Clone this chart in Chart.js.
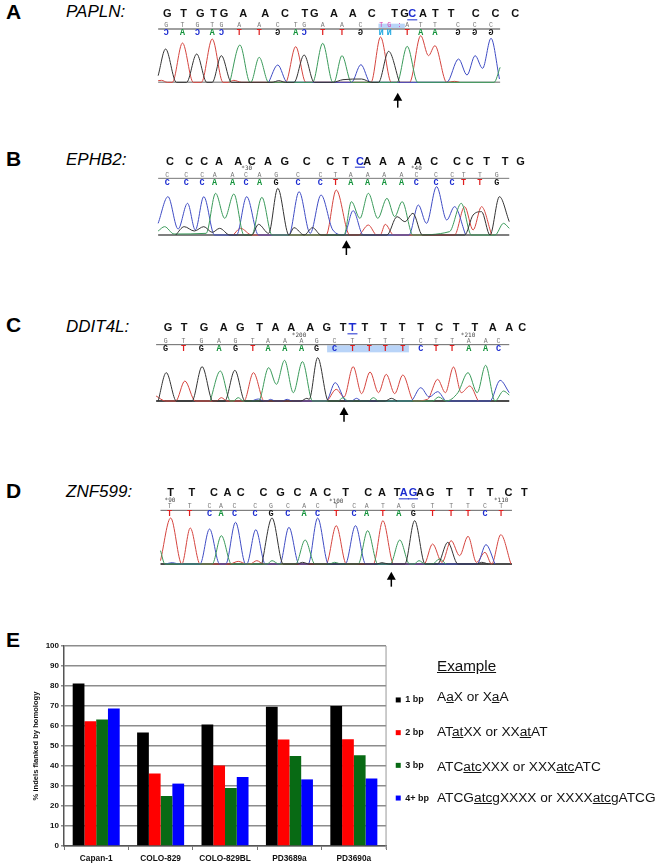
<!DOCTYPE html>
<html>
<head>
<meta charset="utf-8">
<script src="https://cdn.jsdelivr.net/npm/chart.js@4"></script>
<style>
html, body { margin: 0; padding: 0; background: #fff; }
body { width: 662px; height: 868px; position: relative; overflow: hidden; font-family: "Liberation Sans", Arial, sans-serif; color: #000; filter: blur(0.35px); }
canvas { position: absolute; left: 0; }
.panel { position: absolute; left: 6px; font-size: 21px; font-weight: bold; line-height: 21px; }
.gene { position: absolute; left: 66px; font-size: 17px; font-style: italic; line-height: 17px; }
.example { position: absolute; left: 437px; font-size: 13.7px; line-height: 14px; white-space: nowrap; color: #111; }
</style>
</head>
<body>
<div class="panel" style="top:1px">A</div>
<div class="gene" style="top:3px">PAPLN:</div>
<div class="panel" style="top:148px">B</div>
<div class="gene" style="top:151px">EPHB2:</div>
<div class="panel" style="top:314px">C</div>
<div class="gene" style="top:318px">DDIT4L:</div>
<div class="panel" style="top:480px">D</div>
<div class="gene" style="top:483px">ZNF599:</div>
<div class="panel" style="top:629px">E</div>

<canvas id="trace_a" width="662" height="120" style="top:0px"></canvas>
<canvas id="trace_b" width="662" height="120" style="top:145px"></canvas>
<canvas id="trace_c" width="662" height="120" style="top:310px"></canvas>
<canvas id="trace_d" width="662" height="120" style="top:475px"></canvas>
<canvas id="bars" width="453" height="243" style="top:625px"></canvas>

<div class="example" style="top:658px;font-size:15.2px;line-height:16px"><u>Example</u></div>
<div class="example" style="top:690px">A<u>a</u>X or X<u>a</u>A</div>
<div class="example" style="top:725px">AT<u>at</u>XX or XX<u>at</u>AT</div>
<div class="example" style="top:760px">ATC<u>atc</u>XXX or XXX<u>atc</u>ATC</div>
<div class="example" style="top:791px">ATCG<u>atcg</u>XXXX or XXXX<u>atcg</u>ATCG</div>

<script>
// bar chart, panel E
const samples = ['Capan-1', 'COLO-829', 'COLO-829BL', 'PD3689a', 'PD3690a'];
const bp1 = [81.3, 56.7, 60.7, 69.6, 70.0];
const bp2 = [62.4, 36.2, 40.2, 53.2, 53.4];
const bp3 = [63.2, 25.0, 29.0, 45.0, 45.4];
const bp4 = [68.8, 31.2, 34.5, 33.3, 33.7];

// sequence traces, [scan position, signal]
const a_g = [[468,20],[490,100],[522,0],[552,0],[582,85],[612,0],[628,0],[655,80],[685,0],[805,0],[825,5],[845,0],[870,0],[900,82],[930,0],[985,0],[1015,8],[1070,10],[1100,0],[1120,0],[1150,93],[1182,0]];
const a_t = [[468,5],[478,6],[495,0],[510,0],[540,118],[572,0],[596,0],[628,130],[660,0],[675,0],[692,6],[715,0],[845,0],[875,107],[905,0],[1098,0],[1126,136],[1158,0],[1212,0],[1245,140],[1268,80],[1287,110],[1322,0],[1345,3],[1360,0]];
const a_a = [[680,0],[710,112],[740,0],[742,0],[767,75],[795,0],[925,0],[955,117],[985,0],[988,0],[1012,80],[1040,0],[1175,0],[1205,108],[1236,0],[1462,0],[1480,45]];
const a_c = [[795,0],[822,52],[850,0],[1040,0],[1068,53],[1096,0],[1322,0],[1357,70],[1382,22],[1406,80],[1428,42],[1453,132],[1478,10]];

const b_c = [[468,35],[497,115],[527,18],[555,95],[578,15],[603,115],[635,0],[700,0],[730,115],[765,0],[855,0],[885,130],[918,5],[950,120],[985,15],[1018,0],[1045,73],[1075,0],[1210,0],[1238,90],[1262,35],[1292,145],[1322,45],[1345,85],[1378,0]];
const b_a = [[468,12],[487,25],[515,3],[610,5],[638,125],[665,50],[692,123],[722,0],[745,0],[775,113],[805,0],[1018,0],[1040,100],[1065,50],[1090,125],[1118,50],[1145,110],[1168,55],[1190,100],[1222,0],[1330,10],[1365,95],[1395,0],[1465,0],[1490,35],[1507,20]];
const b_g = [[520,0],[545,25],[575,12],[603,25],[628,8],[650,20],[680,0],[745,0],[765,32],[795,5],[822,140],[855,0],[870,22],[900,0],[925,22],[950,0],[1145,0],[1175,55],[1198,40],[1222,65],[1250,0],[1375,0],[1400,60],[1425,70],[1450,0],[1478,115],[1507,40]];
const b_t = [[690,0],[712,20],[745,0],[965,0],[995,135],[1035,0],[1060,0],[1090,30],[1115,0],[1125,0],[1140,32],[1165,0],[1345,0],[1375,85],[1400,15],[1425,85],[1455,0]];

const c_g = [[468,0],[492,85],[522,0],[568,0],[598,103],[630,0],[665,0],[695,92],[725,0],[890,0],[908,8],[915,5],[940,130],[972,0],[1140,0],[1158,8],[1175,0]];
const c_t = [[462,15],[490,0],[520,0],[547,60],[578,0],[640,0],[655,10],[672,0],[722,0],[750,85],[782,0],[965,0],[995,35],[1018,12],[1045,103],[1070,22],[1095,87],[1120,25],[1143,80],[1168,22],[1192,78],[1225,0],[1265,5],[1295,65],[1318,25],[1342,102],[1365,25],[1390,45],[1415,0]];
const c_a = [[622,0],[652,90],[682,0],[690,0],[705,10],[720,0],[765,0],[795,100],[818,50],[842,122],[868,25],[895,118],[925,0],[1000,0],[1015,10],[1030,0],[1090,0],[1105,10],[1120,0],[1280,0],[1298,12],[1320,0],[1355,25],[1385,85],[1412,25],[1437,107],[1465,0],[1490,30],[1507,18]];
const c_c = [[745,0],[765,6],[780,0],[790,0],[800,5],[815,0],[835,0],[850,5],[865,0],[965,0],[992,55],[1025,0],[1040,0],[1055,8],[1070,0],[1215,0],[1245,40],[1270,12],[1295,28],[1322,0],[1450,0],[1480,62],[1507,25]];

const d_t = [[475,10],[505,138],[538,0],[563,108],[592,0],[680,0],[705,8],[730,0],[740,0],[760,10],[780,0],[965,0],[995,115],[1025,0],[1105,0],[1133,130],[1165,0],[1255,0],[1280,60],[1308,5],[1335,70],[1360,25],[1385,83],[1410,5],[1435,35],[1455,0],[1482,88],[1512,0]];
const d_c = [[490,0],[510,4],[530,0],[592,0],[620,105],[650,0],[668,0],[697,125],[727,0],[730,0],[757,103],[785,0],[828,0],[855,110],[885,0],[912,0],[940,138],[972,0],[1022,0],[1052,115],[1082,0],[1412,0],[1438,58],[1465,0]];
const d_a = [[475,40],[488,0],[628,0],[655,85],[685,0],[790,0],[805,10],[825,0],[875,0],[903,72],[932,0],[975,0],[990,5],[1010,0],[1060,0],[1088,100],[1118,0],[1155,0],[1183,72],[1212,0],[1225,0],[1240,10],[1258,0],[1280,0],[1300,15],[1320,0]];
const d_g = [[775,0],[805,138],[838,0],[880,0],[895,5],[915,0],[1115,0],[1130,4],[1150,0],[1198,0],[1227,130],[1258,0],[1295,0],[1325,65],[1355,0],[1410,0],[1425,5],[1445,0]];

// base calls above each trace
const a_seq = 'GTGTGAACTGAACTGCATTCCC';
const a_seq_x = [495,543,593,632,663,720,785,843,902,930,988,1044,1100,1168,1197,1220,1252,1288,1335,1408,1466,1525];
const a_call = 'GTGTGAACTGAACTG:ATTCCC';
const a_low = 'CACACTTGACTTGNN TAAGGG';
const a_call_x = [492,540,584,628,655,708,767,822,875,900,955,1012,1067,1128,1152,1182,1205,1245,1287,1355,1405,1453];

const b_seq = 'CCCAACAGCCTCAAAACCCTTG';
const b_seq_x = [503,560,604,648,705,745,793,843,908,977,1023,1065,1087,1133,1188,1237,1285,1352,1390,1440,1495,1540];
const b_call = 'CCCAACAGCCTAAAACCCTTG';
const b_call_x = [495,551,598,635,688,728,768,817,882,948,993,1038,1088,1137,1188,1232,1290,1338,1372,1420,1470];

const c_seq = 'GTGAGTAAAGTTTTTTCTTAAC';
const c_seq_x = [497,545,604,662,711,768,815,862,918,967,1015,1043,1080,1135,1190,1245,1300,1350,1405,1458,1507,1545];
const c_call = 'GTGAGTAAAGCTTTTCTTAAC';
const c_call_x = [490,543,596,648,697,748,793,843,892,937,990,1043,1093,1140,1192,1245,1290,1338,1387,1437,1475];

const d_seq = 'TTCACCGCACTCATAGAGTTTCT';
const d_seq_x = [505,568,633,673,712,780,830,880,928,968,1023,1090,1130,1175,1195,1222,1243,1273,1330,1393,1450,1505,1552];
const d_call = 'TTCACCGCACTCATAGTTTCT';
const d_call_x = [502,561,620,654,694,755,802,852,900,940,995,1048,1085,1133,1180,1223,1280,1335,1385,1435,1483];

const base_colors = { A: '#12923a', C: '#1c2cd0', G: '#111111', T: '#e01e1e', N: '#22a8e0' };
const trace_colors = { A: '#3a9a5a', C: '#3f4cc4', G: '#333333', T: '#d5453f' };

let bases_plugin = {
    id: 'bases',
    beforeDatasetsDraw(chart, args, opts) {
        let ctx = chart.ctx, x = chart.scales.x, y = chart.scales.y;
        if (opts.band) {
            ctx.fillStyle = opts.band.color;
            ctx.fillRect(x.getPixelForValue(opts.band.from), y.getPixelForValue(opts.band.top),
                x.getPixelForValue(opts.band.to) - x.getPixelForValue(opts.band.from),
                y.getPixelForValue(opts.band.bottom) - y.getPixelForValue(opts.band.top));
        }
    },
    afterDatasetsDraw(chart, args, opts) {
        let ctx = chart.ctx, x = chart.scales.x, y = chart.scales.y;
        ctx.save();
        ctx.textAlign = 'center';
        ctx.textBaseline = 'middle';

        // sequence across the top
        ctx.font = 'bold 11px "Liberation Sans"';
        opts.seq.split('').forEach((c, i) => {
            let px = x.getPixelForValue(opts.seqX[i]), py = y.getPixelForValue(opts.seqY);
            let marked = opts.marked.includes(i);
            ctx.fillStyle = marked ? '#1c2cd0' : '#111';
            ctx.fillText(c, px, py);
            if (marked) {
                ctx.fillRect(px - 5, py + 5, 10, 1);
                if (opts.overline) ctx.fillRect(px - 4, py - 5, 8, 1);
            }
        });

        // small grey calls over the line, coloured ones under it
        opts.call.split('').forEach((c, i) => {
            let px = x.getPixelForValue(opts.callX[i]);
            ctx.font = '6.5px "Liberation Mono"';
            ctx.fillStyle = opts.pink.includes(i) ? '#d838a8' : '#777';
            ctx.fillText(c, px, y.getPixelForValue(opts.callY));
            let low = opts.low ? opts.low[i] : c;
            if (low === ' ' || low === ':') return;
            ctx.font = 'bold 8.5px "Liberation Mono"';
            ctx.fillStyle = base_colors[low];
            let py = y.getPixelForValue(opts.lowY);
            if (opts.low) {
                ctx.save();
                ctx.translate(px, py);
                ctx.scale(-1, 1);
                ctx.fillText(low, 0, 0);
                ctx.restore();
            } else {
                ctx.fillText(low, px, py);
            }
        });

        // position numbers
        ctx.font = '6px "DejaVu Sans Mono"';
        ctx.fillStyle = '#444';
        opts.numbers.forEach(n => ctx.fillText(n.text, x.getPixelForValue(n.x), y.getPixelForValue(n.y)));

        // arrow under the trace
        let ax = x.getPixelForValue(opts.arrow.x), ay0 = y.getPixelForValue(opts.arrow.tip), ay1 = y.getPixelForValue(opts.arrow.tail);
        ctx.strokeStyle = '#000';
        ctx.lineWidth = 1.5;
        ctx.beginPath();
        ctx.moveTo(ax, ay0 + 4);
        ctx.lineTo(ax, ay1);
        ctx.stroke();
        ctx.fillStyle = '#000';
        ctx.beginPath();
        ctx.moveTo(ax, ay0);
        ctx.lineTo(ax - 4.5, ay0 + 8);
        ctx.lineTo(ax + 4.5, ay0 + 8);
        ctx.closePath();
        ctx.fill();
        ctx.restore();
    }
};

let make_trace = function(canvas_id, base_y, traces, line_from, line_to, line_color, line_width, opts) {
    let trace_line = (data, color, width) => ({
        data: data,
        borderColor: color,
        borderWidth: width,
        pointRadius: 0,
        cubicInterpolationMode: 'monotone',
        fill: false,
    });
    let top_line = base_y - opts.rule;
    new Chart(document.getElementById(canvas_id).getContext('2d'), {
        type: 'line',
        data: {
            datasets: [
                trace_line(traces.G, trace_colors.G, 1),
                trace_line(traces.A, trace_colors.A, 1),
                trace_line(traces.C, trace_colors.C, 1),
                trace_line(traces.T, trace_colors.T, 1),
                trace_line([[line_from, 0], [line_to, 0]], line_color, line_width),
                trace_line([[line_from, top_line], [line_to, top_line]], opts.ruleColor, opts.ruleWidth),
            ],
        },
        options: {
            responsive: false,
            animation: false,
            layout: { padding: 0 },
            scales: {
                x: { type: 'linear', display: false, min: 0, max: 1959 },
                y: { display: false, min: base_y - 360, max: base_y },
            },
            plugins: {
                legend: { display: false },
                tooltip: { enabled: false },
                bases: {
                    seq: opts.seq, seqX: opts.seqX, seqY: base_y - opts.seqRow,
                    call: opts.call, callX: opts.callX, callY: base_y - opts.callRow,
                    low: opts.low, lowY: base_y - opts.lowRow,
                    marked: opts.marked, overline: opts.overline, pink: opts.pink || [],
                    numbers: (opts.numbers || []).map(n => ({ text: n[0], x: n[1], y: base_y - n[2] })),
                    arrow: { x: opts.arrow[0], tip: base_y - opts.arrow[1], tail: base_y - opts.arrow[2] },
                    band: opts.band ? {
                        color: '#b9d4f8', from: opts.band[0], to: opts.band[1],
                        top: base_y - opts.band[2], bottom: base_y - opts.band[3],
                    } : null,
                },
            },
        },
        plugins: [bases_plugin],
    });
};

make_trace('trace_a', 247, { G: a_g, T: a_t, A: a_a, C: a_c }, 468, 1480, '#999', 1.5, {
    seq: a_seq, seqX: a_seq_x, seqRow: 43, marked: [15],
    call: a_call, callX: a_call_x, callRow: 77, low: a_low, lowRow: 99,
    rule: 87, ruleColor: '#a0a0a0', ruleWidth: 2, pink: [13, 14, 15],
    arrow: [1177, 278, 323], band: [1120, 1198, 71, 86],
});
make_trace('trace_b', 270, { G: b_g, T: b_t, A: b_a, C: b_c }, 468, 1507, '#555', 1.5, {
    seq: b_seq, seqX: b_seq_x, seqRow: 50, marked: [11],
    call: b_call, callX: b_call_x, callRow: 90, lowRow: 113,
    rule: 100, ruleColor: '#777', ruleWidth: 1,
    numbers: [['*30', 730, 70], ['*40', 1232, 70]],
    arrow: [1025, 286, 330],
});
make_trace('trace_c', 273, { G: c_g, T: c_t, A: c_a, C: c_c }, 462, 1507, '#111', 1.5, {
    seq: c_seq, seqX: c_seq_x, seqRow: 55, marked: [11], overline: true,
    call: c_call, callX: c_call_x, callRow: 95, lowRow: 117,
    rule: 104, ruleColor: '#666', ruleWidth: 1,
    numbers: [['*200', 885, 75], ['*210', 1385, 75]],
    arrow: [1018, 291, 335], band: [968, 1210, 106, 127],
});
make_trace('trace_d', 267, { G: d_g, T: d_t, A: d_a, C: d_c }, 475, 1515, '#111', 1.5, {
    seq: d_seq, seqX: d_seq_x, seqRow: 55, marked: [14, 15],
    call: d_call, callX: d_call_x, callRow: 95, lowRow: 118,
    rule: 106, ruleColor: '#666', ruleWidth: 1,
    numbers: [['*90', 503, 76], ['*100', 995, 78], ['*110', 1483, 76]],
    arrow: [1158, 290, 335],
});

let right_edge = {
    id: 'right_edge',
    afterLayout(chart) {
        // legend sits closer to the plot than its label padding allows
        chart.legend.left -= 14;
        chart.legend.top -= 8;
        chart.legend.bottom -= 8;
    },
    beforeDatasetsDraw(chart) {
        let ctx = chart.ctx, a = chart.chartArea;
        ctx.save();
        ctx.strokeStyle = '#999';
        ctx.lineWidth = 1;
        ctx.beginPath();
        ctx.moveTo(a.right, a.top);
        ctx.lineTo(a.right, a.bottom + 3);
        ctx.stroke();
        ctx.restore();
    }
};

let bar_set = (label, data, color) => ({
    label: label,
    data: data,
    backgroundColor: color,
    borderWidth: 0,
    barPercentage: 1,
    categoryPercentage: 0.73,
});

new Chart(document.getElementById('bars').getContext('2d'), {
    type: 'bar',
    data: {
        labels: samples,
        datasets: [
            bar_set('1 bp', bp1, '#000000'),
            bar_set('2 bp', bp2, '#ff0000'),
            bar_set('3 bp', bp3, '#086a14'),
            bar_set('4+ bp', bp4, '#0000ff'),
        ],
    },
    options: {
        responsive: false,
        animation: false,
        layout: { padding: { left: 29, top: 21 } },
        scales: {
            x: {
                grid: { drawOnChartArea: false, color: '#777', tickLength: 4 },
                border: { color: '#555', width: 1.5 },
                ticks: { color: '#111', font: { family: 'Liberation Sans', weight: 'bold', size: 8.3 }, padding: 4, maxRotation: 0 },
                afterFit: s => { s.height = 22; },
            },
            y: {
                min: 0,
                max: 100,
                grid: { color: '#8c8c8c', lineWidth: 1.5, tickLength: 3 },
                border: { color: '#555', width: 1.5 },
                ticks: { stepSize: 10, color: '#111', font: { family: 'Liberation Sans', weight: 'bold', size: 8 }, padding: 2 },
                title: { display: true, text: '% indels flanked by homology', color: '#111', padding: 2, font: { family: 'Liberation Sans', weight: 'bold', size: 7.6 } },
                afterFit: s => { s.width = 35; },
            },
        },
        plugins: {
            tooltip: { enabled: false },
            legend: {
                position: 'right',
                labels: {
                    boxWidth: 5,
                    boxHeight: 5,
                    padding: 23.7,
                    color: '#111',
                    font: { family: 'Liberation Sans', weight: 'bold', size: 9 },
                },
            },
        },
    },
    plugins: [right_edge],
});
</script>
</body>
</html>
